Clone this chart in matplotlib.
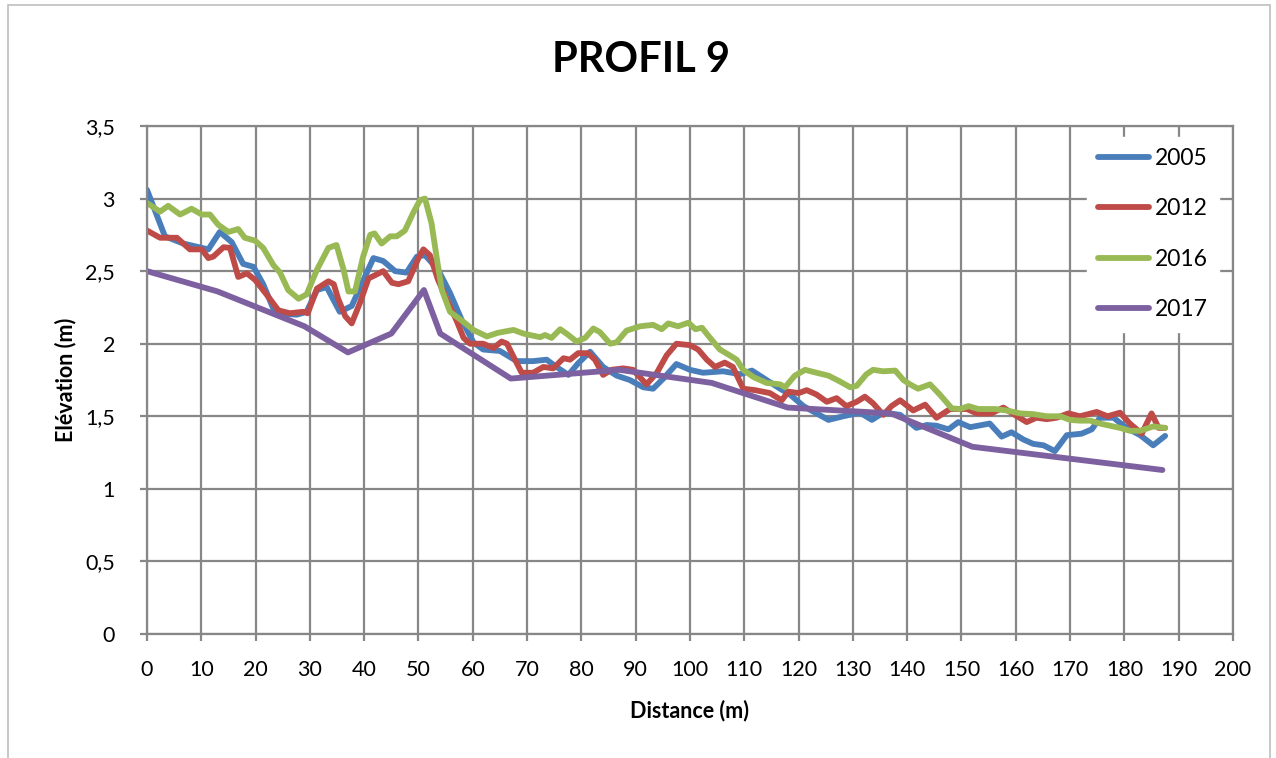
import matplotlib
matplotlib.use("Agg")
import matplotlib.pyplot as plt
from matplotlib.patches import Rectangle

title = "PROFIL 9"
xlabel = "Distance (m)"
ylabel = "Elévation (m)"
series_names = ["2005", "2012", "2016", "2017"]
colors = ["#4A7EBB", "#BE4B48", "#98B954", "#7D60A0"]

x_2005 = [0, 3.3, 6.7, 11.3, 13.4, 15.6, 17.7, 19.6, 21.4, 23.6, 27.6, 29.4, 31.3, 33.1, 35.5,
          37.7, 41.7, 43.5, 45.7, 47.8, 49.7, 51.2, 53.6, 55.8, 58.0, 60.1, 61.9, 65.0, 68.1,
          71.1, 73.6, 75.4, 77.6, 79.4, 81.6, 84.0, 86.5, 88.9, 91.4, 93.2, 95.1, 97.5, 100.0,
          102.4, 106.1, 109.2, 111.4, 114.1, 116.6, 118.4, 120.9, 123.3, 125.5, 128.2, 131.3,
          133.5, 135.6, 138.7, 141.7, 143.6, 145.4, 147.6, 149.4, 151.6, 155.2, 157.4, 159.2,
          161.4, 163.2, 165.1, 167.2, 169.4, 172.1, 174.0, 175.5, 178.0, 180.4, 182.9, 185.3, 187.5]
y_2005 = [3.06, 2.74, 2.69, 2.65, 2.77, 2.70, 2.55, 2.53, 2.41, 2.21, 2.20, 2.22, 2.37, 2.39, 2.22,
          2.26, 2.59, 2.57, 2.50, 2.49, 2.60, 2.61, 2.51, 2.35, 2.16, 2.01, 1.96, 1.95, 1.88,
          1.88, 1.89, 1.84, 1.785, 1.865, 1.945, 1.84, 1.78, 1.75, 1.70, 1.69, 1.76, 1.86, 1.82,
          1.80, 1.81, 1.79, 1.815, 1.75, 1.69, 1.65, 1.57, 1.52, 1.475, 1.50, 1.525,
          1.475, 1.525, 1.51, 1.42, 1.44, 1.435, 1.41, 1.46, 1.425, 1.45, 1.36, 1.39,
          1.34, 1.31, 1.30, 1.26, 1.37, 1.38, 1.41, 1.49, 1.49, 1.42, 1.37, 1.30, 1.365]

x_2012 = [0, 2.4, 5.5, 7.9, 10.1, 11.3, 12.2, 14.1, 15.3, 16.8, 18.4, 19.9, 22.0, 24.2, 26.3,
          28.8, 29.6, 31.3, 33.4, 34.4, 35.2, 36.5, 37.7, 39.2, 40.8, 41.9, 43.5, 45.1, 46.3,
          48.1, 50.0, 50.9, 52.1, 53.6, 55.5, 57.0, 58.3, 59.5, 61.9, 63.8, 65.3, 66.3, 67.5,
          69.0, 71.1, 73.0, 74.8, 76.7, 77.9, 79.4, 81.2, 82.5, 84.0, 85.5, 87.7, 89.5, 92.0,
          93.9, 95.7, 97.5, 100.0, 101.5, 103.1, 104.6, 106.4, 107.9, 109.8, 112.0, 114.7,
          116.9, 118.1, 120.0, 121.5, 123.3, 125.2, 127.0, 128.8, 130.7, 132.2, 133.7, 135.6,
          137.1, 138.7, 141.1, 143.3, 145.4, 147.9, 151.0, 152.8, 155.5, 157.7, 159.8, 162.0,
          163.8, 165.7, 167.5, 169.7, 171.8, 174.9, 176.9, 179.2, 181.0, 183.2, 185.0, 186.3, 187.5]
y_2012 = [2.78, 2.73, 2.73, 2.65, 2.65, 2.59, 2.60, 2.665, 2.66, 2.46, 2.485, 2.44, 2.34, 2.23, 2.21,
          2.22, 2.21, 2.38, 2.43, 2.41, 2.31, 2.19, 2.14, 2.28, 2.45, 2.47, 2.50, 2.42, 2.41,
          2.43, 2.59, 2.65, 2.61, 2.44, 2.28, 2.16, 2.04, 2.00, 2.00, 1.97, 2.015, 2.00, 1.91,
          1.80, 1.80, 1.84, 1.83, 1.90, 1.89, 1.935, 1.935, 1.89, 1.785, 1.82, 1.83, 1.82, 1.72,
          1.80, 1.92, 2.00, 1.99, 1.96, 1.89, 1.84, 1.87, 1.84, 1.69, 1.68, 1.66,
          1.61, 1.67, 1.66, 1.68, 1.65, 1.60, 1.625, 1.57, 1.60, 1.635, 1.59, 1.51,
          1.57, 1.61, 1.54, 1.58, 1.49, 1.55, 1.55, 1.52, 1.52, 1.56, 1.51, 1.46,
          1.49, 1.48, 1.49, 1.52, 1.50, 1.53, 1.50, 1.525, 1.45, 1.38, 1.52, 1.42, 1.42]

x_2016 = [0, 2.4, 3.9, 6.1, 8.2, 10.1, 11.6, 13.1, 15.0, 16.8, 18.0, 19.9, 21.4, 23.3, 24.5,
          26.0, 27.9, 29.4, 31.3, 33.4, 34.9, 36.2, 37.1, 38.3, 39.8, 41.1, 41.9, 43.2, 44.8,
          46.0, 47.5, 49.0, 50.3, 51.2, 52.4, 53.4, 54.3, 55.8, 58.3, 60.1, 62.6, 64.6, 67.5,
          69.3, 70.5, 72.4, 73.3, 74.5, 76.1, 77.6, 79.1, 80.7, 82.2, 83.4, 85.3, 86.5, 88.3,
          90.8, 93.2, 94.8, 96.0, 97.8, 99.7, 101.0, 102.2, 103.7, 105.5, 107.3, 108.6, 109.8,
          111.7, 114.1, 116.6, 117.5, 119.3, 121.2, 123.3, 125.5, 127.6, 129.5, 130.7, 132.5,
          133.7, 135.6, 137.8, 139.3, 140.5, 142.0, 144.2, 146.0, 148.2, 149.7, 151.3, 153.1,
          156.2, 158.3, 160.8, 163.2, 165.7, 168.2, 170.0, 171.8, 173.7, 175.5, 179.2, 181.0,
          182.9, 185.3, 187.5]
y_2016 = [2.97, 2.91, 2.95, 2.89, 2.93, 2.89, 2.89, 2.82, 2.77, 2.79, 2.73, 2.71, 2.66, 2.54, 2.49,
          2.37, 2.31, 2.34, 2.51, 2.66, 2.68, 2.51, 2.36, 2.36, 2.60, 2.75, 2.76, 2.69, 2.74,
          2.74, 2.78, 2.90, 2.99, 3.00, 2.83, 2.58, 2.37, 2.22, 2.15, 2.095, 2.05, 2.075, 2.095,
          2.07, 2.06, 2.045, 2.06, 2.04, 2.10, 2.06, 2.015, 2.04, 2.105, 2.08, 2.00, 2.01, 2.09,
          2.12, 2.13, 2.10, 2.14, 2.12, 2.145, 2.10, 2.11, 2.04, 1.96, 1.92, 1.89, 1.82,
          1.77, 1.73, 1.72, 1.70, 1.78, 1.82, 1.80, 1.78, 1.74, 1.70, 1.71, 1.79,
          1.82, 1.81, 1.815, 1.75, 1.72, 1.69, 1.72, 1.65, 1.555, 1.55, 1.57, 1.55,
          1.55, 1.54, 1.52, 1.515, 1.50, 1.50, 1.475, 1.47, 1.47, 1.45, 1.42, 1.40,
          1.40, 1.43, 1.42]

x_2017 = [0, 13, 29, 37, 45, 51, 54, 67, 87, 104, 118, 137, 152, 187]
y_2017 = [2.50, 2.36, 2.12, 1.94, 2.07, 2.37, 2.07, 1.76, 1.82, 1.73, 1.56, 1.52, 1.29, 1.13]

xs = [x_2005, x_2012, x_2016, x_2017]
ys = [y_2005, y_2012, y_2016, y_2017]

xticks = list(range(0, 201, 10))
yticks = [0, 0.5, 1, 1.5, 2, 2.5, 3, 3.5]
ytick_labels = ["0", "0,5", "1", "1,5", "2", "2,5", "3", "3,5"]

plt.rcParams['font.family'] = ['Lato', 'DejaVu Sans']
grid_c = "#878787"

fig = plt.figure(figsize=(12.76, 7.58), dpi=100)
fig.patches.append(Rectangle((8/1276, -0.05), (1270-8)/1276, 1.05 - 5/758,
                             transform=fig.transFigure, fill=False,
                             edgecolor="#BFBFBF", linewidth=1.2))
ax = fig.add_axes([147/1276, 1-634/758, (1233-147)/1276, (634-126)/758])

for x, y, c, n in zip(xs, ys, colors, series_names):
    ax.plot(x, y, color=c, lw=4.2, label=n, solid_joinstyle='round', solid_capstyle='round')

ax.set_xlim(0, 200)
ax.set_ylim(0, 3.5)
ax.set_xticks(xticks)
ax.set_xticklabels([str(t) for t in xticks])
ax.set_yticks(yticks)
ax.set_yticklabels(ytick_labels)
ax.grid(True, color=grid_c, lw=1.6)
ax.set_axisbelow(True)
for s in ax.spines.values():
    s.set_color(grid_c)
    s.set_linewidth(1.6)
ax.tick_params(axis='both', colors=grid_c, length=5, width=1.6, labelsize=15.5,
               labelcolor="black")
ax.tick_params(axis='x', pad=14)
ax.tick_params(axis='y', pad=18)

ax.set_xlabel(xlabel, fontsize=15.5, fontweight='bold', labelpad=14)
ax.set_ylabel(ylabel, fontsize=15.5, fontweight='bold', labelpad=6)
fig.text(0.502, 0.921, title, ha='center', va='center', fontsize=30, fontweight='bold')

leg = ax.legend(loc='upper right', bbox_to_anchor=(0.987, 0.979), frameon=True, fontsize=16.5,
                handlelength=2.2, labelspacing=1.28, handletextpad=0.25, borderaxespad=0.0,
                borderpad=0.5)
leg.get_frame().set_facecolor('white')
leg.get_frame().set_edgecolor('white')
leg.get_frame().set_alpha(1)

fig.savefig("out.png", dpi=100)
